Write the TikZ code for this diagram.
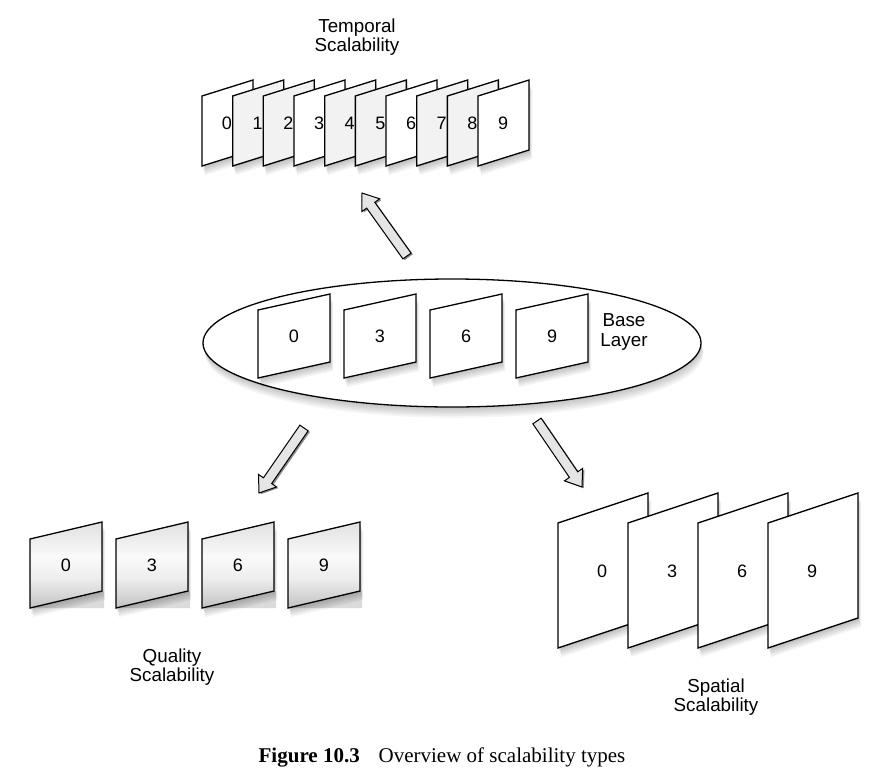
\documentclass[tikz,border=0pt]{standalone}
\usepackage{fontspec}
\setmainfont{Liberation Serif}
\newfontfamily\lsans{Liberation Sans}
\usetikzlibrary{calc,shapes.geometric}
\pgfdeclareverticalshading{qgrad}{100bp}{color(0bp)=(black!24); color(25bp)=(black!24); color(42bp)=(black!7); color(55bp)=(black!2); color(75bp)=(black!12); color(100bp)=(black!12)}
\tikzset{
 lbl/.style={font=\lsans\fontsize{18}{19}\selectfont, inner sep=0pt},
 ttl/.style={font=\lsans\fontsize{18.8}{19.5}\selectfont, align=center, inner sep=0pt},
 frameline/.style={draw=black, line width=1.3pt, line join=miter},
 arrowbody/.style={draw=black, line width=1pt, fill=black!10, line join=miter},
 arrowshade/.style={fill=black!45},
 whitefill/.style={fill=white},
 palefill/.style={fill=black!5},
 gradfill/.style={shading=qgrad},
}
% #1 name, #2 x, #3 y (top-left), #4 w, #5 h, #6 skew, #7 style, #8 label, #9 label x offset
\newcommand\frm[9]{%
 \foreach \k in {1,...,5}{%
  \fill[black,opacity=0.05] ({#2+\k*0.6},{#3+\k*1.8}) -- ++(#4,-#6) -- ++(0,#5) -- ++(-#4,#6) -- cycle;}
 \path[frameline,#7] (#2,#3) -- ++(#4,-#6) -- ++(0,#5) -- ++(-#4,#6) -- cycle;
 \node[lbl] (#1) at ({#2+#9},{#3+#5/2-#6*#9/#4}) {#8};
}
% block arrow: #1 prefix, #2 tail, #3 tip
\newcommand\barrow[3]{%
 \coordinate (#1h) at ($(#3)!15pt!(#2)$);
 \coordinate (#1a1) at ($(#2)!5pt!90:(#3)$);
 \coordinate (#1a2) at ($(#2)!5pt!-90:(#3)$);
 \coordinate (#1s1) at ($(#1h)!5pt!90:(#3)$);
 \coordinate (#1s2) at ($(#1h)!5pt!-90:(#3)$);
 \coordinate (#1w1) at ($(#1h)!11pt!90:(#3)$);
 \coordinate (#1w2) at ($(#1h)!11pt!-90:(#3)$);
 \fill[arrowshade] ($(#1a1)+(1.8,1.2)$) -- ($(#1s1)+(1.8,1.2)$) -- ($(#1w1)+(1.8,1.2)$) -- ($(#3)+(1.8,1.2)$)
   -- ($(#1w2)+(1.8,1.2)$) -- ($(#1s2)+(1.8,1.2)$) -- ($(#1a2)+(1.8,1.2)$) -- cycle;
 \path[arrowbody] (#1a1) -- (#1s1) -- (#1w1) -- (#3) -- (#1w2) -- (#1s2) -- (#1a2) -- cycle;
}
\begin{document}
\begin{tikzpicture}[x=1pt,y=-1pt]
\useasboundingbox (0,0) rectangle (878,782);
\fill[white] (0,0) rectangle (878,782);

% Temporal scalability frames
\foreach \i in {0,...,9}{%
 \pgfmathsetmacro\xx{202+30.67*\i}
 \pgfmathtruncatemacro\mm{mod(\i,3)}
 \ifnum\mm=0
  \frm{t\i}{\xx}{96}{51}{70}{16}{whitefill}{\i}{25}
 \else
  \frm{t\i}{\xx}{96}{51}{70}{16}{palefill}{\i}{25}
 \fi
}
\node[ttl] (ttitle) at (357,37) {Temporal\\Scalability};

% arrow up
\coordinate (upT) at (407,256);
\coordinate (upH) at (362,193);
\barrow{ua}{upT}{upH}

% base layer ellipse
\foreach \k in {1,...,6}{%
 \fill[black,opacity=0.04] ({452+\k*0.4},{343+\k*1.8}) ellipse [x radius=249pt, y radius=64pt];}
\node[draw=black, line width=1.3pt, fill=white, ellipse, minimum width=498pt, minimum height=128pt, inner sep=0pt] (base) at (452,343) {};
\foreach \i/\d in {0/0,1/3,2/6,3/9}{%
 \pgfmathsetmacro\xx{258+86*\i}
 \frm{b\d}{\xx}{310}{72}{68}{16}{whitefill}{\d}{36}
}
\node[ttl] (btitle) at (624,332) {Base\\Layer};

% arrows down
\coordinate (qT) at (304,428);
\coordinate (qH) at (259,493);
\barrow{qa}{qT}{qH}
\coordinate (sT) at (537,421);
\coordinate (sH) at (582,487);
\barrow{sa}{sT}{sH}

% quality scalability
\foreach \i/\d in {0/0,1/3,2/6,3/9}{%
 \pgfmathsetmacro\xx{30+86*\i}
 \fill[black!14] (\xx,608) -- ++(72,-17) -- ++(2,0) -- ++(0,17) -- cycle;
 \frm{q\d}{\xx}{539}{72}{69}{17}{gradfill}{\d}{36}
}
\node[ttl] (qtitle) at (172,667) {Quality\\Scalability};

% spatial scalability
\foreach \i/\d in {0/0,1/3,2/6,3/9}{%
 \pgfmathsetmacro\xx{558+70*\i}
 \frm{s\d}{\xx}{523}{90}{125}{30}{whitefill}{\d}{44}
}
\node[ttl] (stitle) at (716,697) {Spatial\\Scalability};

% caption
\node[anchor=base, inner sep=0pt, font=\fontsize{21}{24}\selectfont] (cap) at (442,762)
 {\textbf{Figure 10.3}\hspace{0.9em}Overview of scalability types};
\end{tikzpicture}
\end{document}
